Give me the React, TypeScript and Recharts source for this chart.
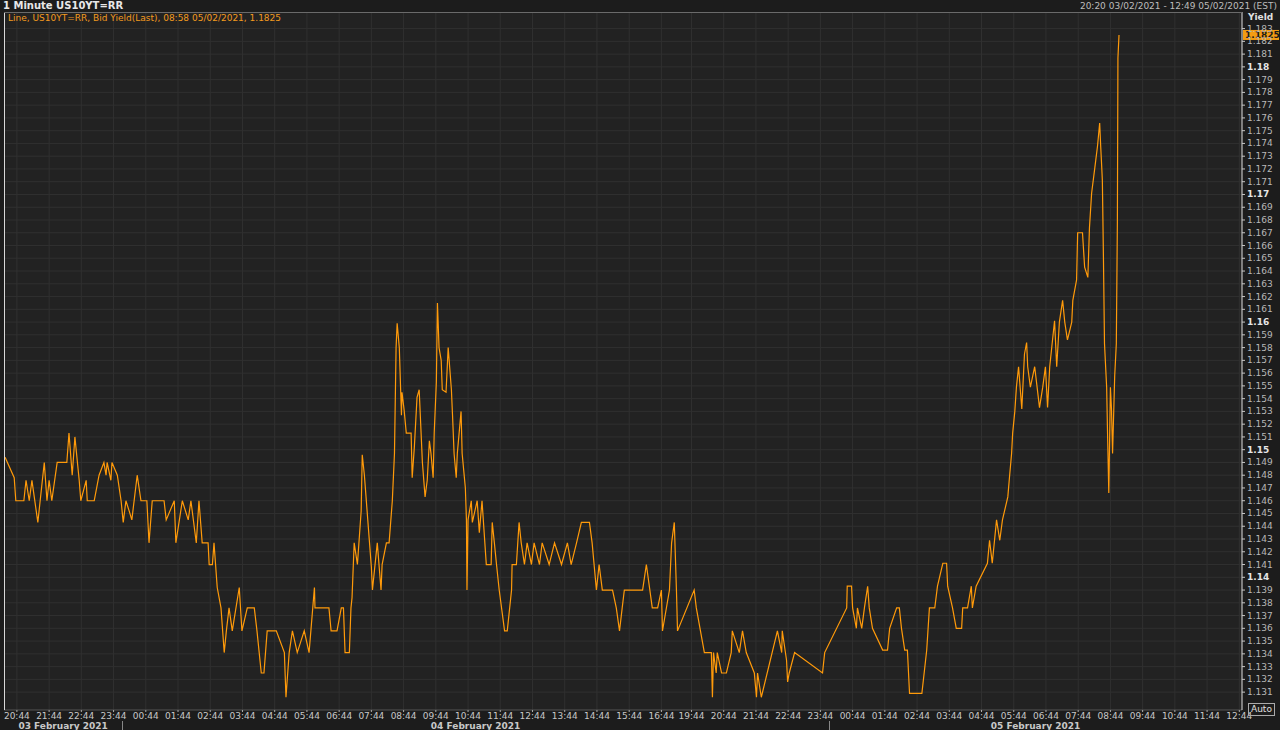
import { LineChart, Line, XAxis, YAxis, CartesianGrid, ReferenceDot } from 'recharts';

// trading minutes since 20:20 03/02 (the 17:00-19:00 break is skipped)
const MINUTES = [
  2, 19, 22, 37, 41, 47, 52, 63, 75, 80, 84, 89, 99, 117, 121, 127, 132, 140, 143, 153,
  155, 168, 177, 186, 190, 192, 199, 201, 211, 218, 222, 227, 233, 238, 248, 255, 266, 270, 276, 298,
  302, 317, 320, 332, 343, 348, 358, 363, 369, 380, 382, 388, 391, 397, 404, 410, 414, 419, 425, 438,
  443, 453, 466, 471, 479, 484, 490, 507, 522, 525, 531, 537, 546, 559, 568, 578, 579, 605, 609, 620,
  628, 632, 635, 643, 646, 648, 652, 658, 665, 667, 671, 680, 684, 686, 695, 702, 704, 712, 717, 723,
  727, 730, 732, 736, 740, 741, 745, 749, 758, 760, 764, 769, 773, 779, 784, 788, 792, 795, 799, 801,
  805, 807, 810, 814, 816, 823, 827, 833, 835, 838, 842, 844, 851, 853, 859, 861, 862, 864, 870, 872,
  881, 885, 890, 898, 907, 909, 913, 917, 922, 932, 937, 945, 946, 954, 959, 963, 969, 974, 982, 987,
  997, 1002, 1015, 1025, 1038, 1049, 1056, 1066, 1075, 1090, 1095, 1103, 1108, 1114, 1133, 1140, 1146, 1151, 1155, 1189,
  1196, 1207, 1217, 1224, 1226, 1239, 1243, 1248, 1252, 1254, 1285, 1289, 1304, 1317, 1319, 1321, 1326, 1328, 1336, 1345,
  1354, 1356, 1369, 1375, 1382, 1397, 1401, 1403, 1410, 1440, 1448, 1449, 1457, 1459, 1462, 1472, 1524, 1528, 1569, 1570,
  1578, 1580, 1587, 1589, 1597, 1602, 1608, 1611, 1617, 1636, 1645, 1649, 1662, 1667, 1671, 1677, 1682, 1686, 1709, 1718,
  1723, 1733, 1738, 1748, 1755, 1757, 1766, 1773, 1783, 1785, 1794, 1801, 1803, 1810, 1831, 1835, 1840, 1848, 1854, 1859,
  1869, 1872, 1876, 1878, 1882, 1885, 1889, 1895, 1900, 1904, 1906, 1911, 1919, 1928, 1934, 1939, 1943, 1947, 1956, 1960,
  1965, 1971, 1975, 1980, 1988, 1990, 1997, 1999, 2008, 2012, 2018, 2021, 2025, 2031, 2036, 2040, 2042, 2044, 2045, 2047,
  2049, 2053, 2055, 2057, 2060, 2062, 2064, 2068, 2071, 2073, 2074, 2076,
];

const YIELDS = [
  1.1494, 1.1478, 1.146, 1.146, 1.1476, 1.146, 1.1476, 1.1443, 1.149, 1.146, 1.1476, 1.146, 1.149, 1.149, 1.1513, 1.148, 1.151, 1.1476, 1.146, 1.1476,
  1.146, 1.146, 1.148, 1.149, 1.148, 1.149, 1.1476, 1.149, 1.148, 1.146, 1.1443, 1.146, 1.1452, 1.1445, 1.148, 1.146, 1.146, 1.1427, 1.146, 1.146,
  1.1445, 1.146, 1.1427, 1.146, 1.1445, 1.146, 1.1427, 1.146, 1.1427, 1.1427, 1.141, 1.141, 1.1427, 1.1392, 1.1376, 1.1341, 1.1358, 1.1376, 1.1358, 1.1392,
  1.1358, 1.1376, 1.1376, 1.1358, 1.1325, 1.1325, 1.1358, 1.1358, 1.1341, 1.1306, 1.1341, 1.1358, 1.1341, 1.1358, 1.1341, 1.1392, 1.1376, 1.1376, 1.1358, 1.1358,
  1.1376, 1.1376, 1.1341, 1.1341, 1.1376, 1.1384, 1.1427, 1.141, 1.1452, 1.1496, 1.148, 1.143, 1.1408, 1.139, 1.1427, 1.139, 1.141, 1.1427, 1.1427, 1.146,
  1.1497, 1.158, 1.1599, 1.158, 1.1527, 1.1545, 1.1531, 1.1513, 1.1513, 1.1478, 1.1502, 1.1541, 1.1547, 1.149, 1.1463, 1.1476, 1.1507, 1.1497, 1.1478, 1.1513,
  1.1553, 1.1615, 1.158, 1.157, 1.1547, 1.1545, 1.158, 1.1547, 1.1528, 1.1497, 1.1478, 1.1497, 1.153, 1.1497, 1.147, 1.1445, 1.139, 1.1445, 1.146, 1.1443,
  1.146, 1.1435, 1.146, 1.141, 1.141, 1.1443, 1.1427, 1.141, 1.139, 1.1358, 1.1358, 1.139, 1.141, 1.141, 1.1443, 1.1427, 1.141, 1.1427, 1.141, 1.1427,
  1.141, 1.1427, 1.141, 1.1427, 1.141, 1.1427, 1.141, 1.1427, 1.1443, 1.1443, 1.1427, 1.139, 1.141, 1.139, 1.139, 1.1376, 1.1358, 1.1376, 1.139, 1.139,
  1.141, 1.1376, 1.1376, 1.139, 1.1358, 1.139, 1.1427, 1.1443, 1.139, 1.1358, 1.139, 1.1376, 1.1341, 1.1341, 1.1306, 1.1341, 1.1325, 1.1341, 1.1325, 1.1325,
  1.1341, 1.1358, 1.1341, 1.1358, 1.1341, 1.1325, 1.1306, 1.1325, 1.1306, 1.1358, 1.1341, 1.1358, 1.1335, 1.1318, 1.1325, 1.1341, 1.1325, 1.1341, 1.1376, 1.1393,
  1.1393, 1.1376, 1.136, 1.1376, 1.136, 1.1376, 1.1393, 1.1376, 1.136, 1.1343, 1.1343, 1.136, 1.1376, 1.1376, 1.136, 1.1343, 1.1343, 1.1309, 1.1309, 1.1343,
  1.1376, 1.1376, 1.1393, 1.1411, 1.1411, 1.1393, 1.1376, 1.136, 1.136, 1.1376, 1.1376, 1.1393, 1.1376, 1.1393, 1.1411, 1.1429, 1.1411, 1.1445, 1.1429, 1.1445,
  1.1463, 1.1478, 1.1497, 1.1513, 1.153, 1.1549, 1.1565, 1.1532, 1.1575, 1.1584, 1.1565, 1.1549, 1.1565, 1.1533, 1.1549, 1.1565, 1.1533, 1.1565, 1.1601, 1.1565,
  1.16, 1.1617, 1.16, 1.1586, 1.16, 1.1617, 1.1633, 1.167, 1.167, 1.1643, 1.1635, 1.1674, 1.1701, 1.1721, 1.1738, 1.1756, 1.1737, 1.172, 1.1711, 1.1651,
  1.1583, 1.1549, 1.1506, 1.1466, 1.1549, 1.1532, 1.1497, 1.1558, 1.1583, 1.168, 1.1807, 1.1825,
];

const TICK_LABELS = [
  '20:44', '21:44', '22:44', '23:44', '00:44', '01:44', '02:44', '03:44', '04:44', '05:44', '06:44',
  '07:44', '08:44', '09:44', '10:44', '11:44', '12:44', '13:44', '14:44', '15:44', '16:44',
  '19:44', '20:44', '21:44', '22:44', '23:44', '00:44', '01:44', '02:44', '03:44', '04:44', '05:44',
  '06:44', '07:44', '08:44', '09:44', '10:44', '11:44', '12:44',
];
const TICK_MINUTES = TICK_LABELS.map((_, i) => (i < 21 ? 24 + i * 60 : 1280 + (i - 21) * 60));

const DAYS = [
  { label: '03 February 2021', from: 0, to: 220 },
  { label: '04 February 2021', from: 220, to: 1536 },
  { label: '05 February 2021', from: 1536, to: 2305 },
];

const Y_TICKS = Array.from({ length: 53 }, (_, i) => +(1.131 + i * 0.001).toFixed(3));
const LAST = 1.1825;
const END = 2305;

const data = MINUTES.map((t, i) => ({ t, y: YIELDS[i] }));

const FONT = 'Tahoma, Verdana, "DejaVu Sans", sans-serif';
const PLOT_L = 4;
const PLOT_R = 1242;
const xPx = (m: number) => PLOT_L + (m / END) * (PLOT_R - PLOT_L);

function YTick(props: any) {
  const { x, y, payload } = props;
  const v = payload.value as number;
  const major = Math.round(v * 1000) % 10 === 0;
  const label = String(parseFloat(v.toFixed(3)));
  return (
    <text x={x} y={y} dy={3} fill={major ? '#e6e6e6' : '#b8b8b8'} fontSize={9}
      fontWeight={major ? 'bold' : 'normal'} fontFamily={FONT} textAnchor="start">
      {label}
    </text>
  );
}

function XTick(props: any) {
  const { x, payload } = props;
  const label = TICK_LABELS[TICK_MINUTES.indexOf(payload.value)] ?? '';
  return (
    <text x={x} y={719} fill="#c8c8c8" fontSize={9} fontFamily={FONT} textAnchor="middle">
      {label}
    </text>
  );
}

function LastBox(props: any) {
  const { cx, cy } = props;
  if (cx == null) return null;
  const bx = PLOT_R + 1;
  return (
    <g>
      <rect x={bx} y={cy - 5} width={36} height={10} fill="#f39c12" />
      <text x={bx + 2} y={cy + 3.5} fontSize={9} fontWeight="bold" fill="#1a1a1a" fontFamily={FONT}>
        {LAST}
      </text>
    </g>
  );
}

export default function App() {
  return (
    <div style={{ position: 'fixed', left: 0, top: 0, width: 1280, height: 730, background: '#1c1c1c', overflow: 'hidden', fontFamily: FONT }}>
      <div style={{ position: 'absolute', left: 3, top: 0, fontSize: 10, fontWeight: 'bold', color: '#e8e8e8' }}>
        1 Minute US10YT=RR
      </div>
      <div style={{ position: 'absolute', right: 3, top: 1, fontSize: 9, color: '#bdbdbd' }}>
        20:20 03/02/2021 - 12:49 05/02/2021 (EST)
      </div>
      <LineChart width={1280} height={730} data={data} margin={{ top: 12, right: 0, bottom: 0, left: PLOT_L }}>
        <CartesianGrid stroke="#303030" fill="#222222" horizontalValues={Y_TICKS} verticalValues={TICK_MINUTES} />
        <XAxis dataKey="t" type="number" domain={[0, END]} ticks={TICK_MINUTES} interval={0} height={20}
          tick={<XTick />} tickSize={2}
          axisLine={{ stroke: '#555' }} tickLine={{ stroke: '#aaa' }} allowDataOverflow />
        <YAxis orientation="right" type="number" domain={[1.1296, 1.1843]} ticks={Y_TICKS} interval={0}
          width={38} tick={<YTick />} tickSize={3} axisLine={{ stroke: '#e0e0e0' }} tickLine={{ stroke: '#c8c8c8' }}
          allowDataOverflow />
        <Line type="linear" dataKey="y" stroke="#ff9a0a" strokeWidth={1.2} dot={false} isAnimationActive={false} />
        <ReferenceDot x={MINUTES[MINUTES.length - 1]} y={LAST} ifOverflow="visible" shape={<LastBox />} />
      </LineChart>
      <div style={{ position: 'absolute', left: PLOT_L, top: 12, width: 1, height: 698, background: '#d8d8d8' }} />
      <div style={{ position: 'absolute', left: PLOT_L, top: 12, width: PLOT_R - PLOT_L, height: 1, background: '#6a6a6a' }} />
      <div style={{ position: 'absolute', left: 8, top: 13, fontSize: 9, color: '#f39a1e' }}>
        Line, US10YT=RR, Bid Yield(Last), 08:58 05/02/2021, 1.1825
      </div>
      <div style={{ position: 'absolute', left: 1248, top: 12, fontSize: 9, fontWeight: 'bold', color: '#e0e0e0' }}>Yield</div>
      <div style={{ position: 'absolute', left: 1248, top: 703, fontSize: 9, color: '#e0e0e0', border: '1px solid #aaa', padding: '0 2px', lineHeight: '11px' }}>
        Auto
      </div>
      {DAYS.map((d, i) => (
        <div key={d.label}>
          <div style={{ position: 'absolute', left: (xPx(d.from) + xPx(d.to)) / 2 - 60, width: 120, top: 721, lineHeight: '10px', textAlign: 'center', fontSize: 9, fontWeight: 'bold', color: '#c8c8c8' }}>
            {d.label}
          </div>
          {i > 0 && <div style={{ position: 'absolute', left: xPx(d.from), top: 721, width: 1, height: 9, background: '#888' }} />}
        </div>
      ))}
    </div>
  );
}
